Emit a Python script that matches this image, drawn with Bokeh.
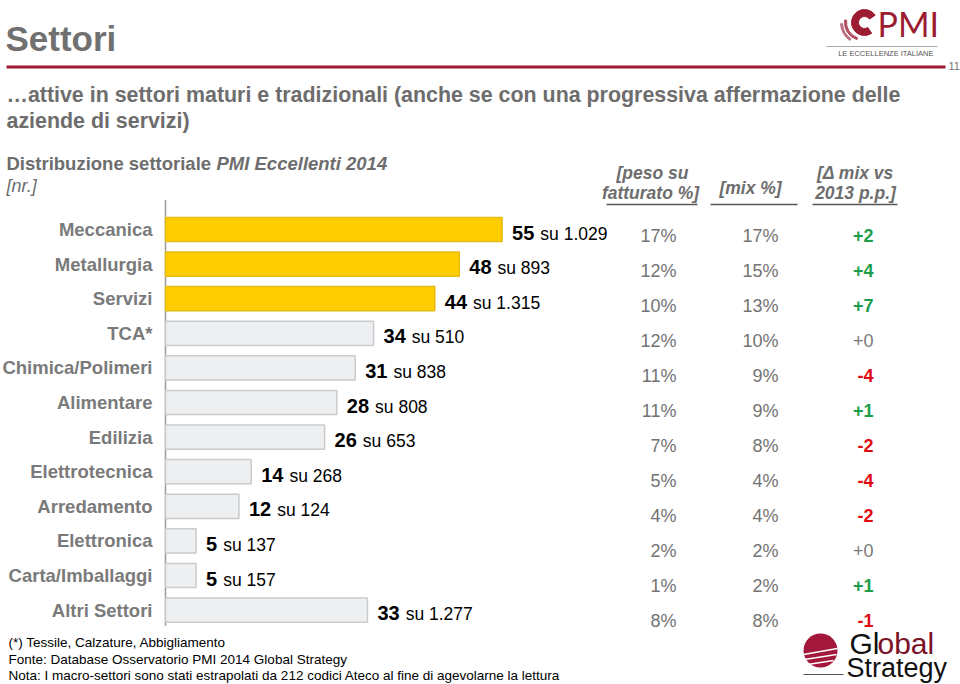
from bokeh.plotting import figure
from bokeh.models import Range1d, ColumnDataSource
from bokeh.embed import file_html
from bokeh.resources import INLINE
from bokeh.core.properties import value

# ---------------- data ----------------
categories = ["Meccanica", "Metallurgia", "Servizi", "TCA*", "Chimica/Polimeri",
              "Alimentare", "Edilizia", "Elettrotecnica", "Arredamento",
              "Elettronica", "Carta/Imballaggi", "Altri Settori"]
eccellenti = [55, 48, 44, 34, 31, 28, 26, 14, 12, 5, 5, 33]
totale = [1029, 893, 1315, 510, 838, 808, 653, 268, 124, 137, 157, 1277]
peso_fatturato = [17, 12, 10, 12, 11, 11, 7, 5, 4, 2, 1, 8]
mix = [17, 15, 13, 10, 9, 9, 8, 4, 4, 2, 2, 8]
delta_mix = [2, 4, 7, 0, -4, 1, -2, -4, -2, 0, 1, -1]
highlighted = ["Meccanica", "Metallurgia", "Servizi"]

FONT = value("Liberation Sans")

def it_num(n):
    return f"{n:,}".replace(",", ".")

idx = list(range(len(categories)))
src = ColumnDataSource(dict(
    idx=idx,
    cat=categories,
    n=eccellenti,
    n_str=[str(v) for v in eccellenti],
    su_str=["su " + it_num(t) for t in totale],
    su_off=[10 + len(str(v)) * 11.1 + 6 for v in eccellenti],
    fill=["#FFCC00" if c in highlighted else "#EDEFF1" for c in categories],
    line=["#E6BC10" if c in highlighted else "#C9CBCD" for c in categories],
    peso=[f"{v}%" for v in peso_fatturato],
    mix=[f"{v}%" for v in mix],
    delta=[f"+{d}" if d >= 0 else f"{d}" for d in delta_mix],
    dcol=["#1E9E4A" if d > 0 else ("#E10A14" if d < 0 else "#7a7a7a") for d in delta_mix],
    dstyle=["bold" if d != 0 else "normal" for d in delta_mix],
))

W, H = 960, 684
p = figure(width=W, height=H, x_range=Range1d(0, W), y_range=Range1d(H, 0),
           output_backend="svg", toolbar_location=None, min_border=0,
           x_axis_location=None, y_axis_location=None, outline_line_color=None)
p.grid.visible = False
p.background_fill_color = "white"
p.border_fill_color = "white"

X0, PXU = 165, 6.12
p.extra_x_ranges = {"val": Range1d((0 - X0) / PXU, (W - X0) / PXU)}
p.extra_y_ranges = {"row": Range1d((H - 229) / 34.6, (0 - 229) / 34.6),
                    "trow": Range1d((H - 235) / 35.0, (0 - 235) / 35.0)}

# ---------------- header ----------------
p.text(x=[5], y=[38], text=["Settori"], text_font=FONT, text_font_size="35px",
       text_font_style="bold", text_color="#707070", text_baseline="middle")
p.segment(x0=[6], y0=[66.5], x1=[945], y1=[66.5], line_color="#9C1C31", line_width=3)
p.text(x=[948], y=[65], text=["11"], text_font=FONT, text_font_size="11px",
       text_color="#777777", text_baseline="middle")

p.text(x=[6, 6], y=[94, 120],
       text=["\u2026attive in settori maturi e tradizionali (anche se con una progressiva affermazione delle",
             "aziende di servizi)"],
       text_font=FONT, text_font_size="21.4px", text_font_style="bold",
       text_color="#6d6d6d", text_baseline="middle")

p.text(x=[6], y=[163], text=["Distribuzione settoriale "], text_font=FONT,
       text_font_size="18.5px", text_font_style="bold", text_color="#6d6d6d",
       text_baseline="middle")
p.text(x=[216], y=[163], text=["PMI Eccellenti 2014"], text_font=FONT,
       text_font_size="18.5px", text_font_style="bold italic", text_color="#6d6d6d",
       text_baseline="middle")
p.text(x=[6], y=[185], text=["[nr.]"], text_font=FONT, text_font_size="18px",
       text_font_style="italic", text_color="#6d6d6d", text_baseline="middle")

# column headers
hdr = dict(text_font=FONT, text_font_size="17.5px", text_font_style="bold italic",
           text_color="#6d6d6d", text_baseline="middle", text_align="center")
p.text(x=[652, 650], y=[172, 192], text=["[peso su", "fatturato %]"], **hdr)
p.text(x=[750], y=[187], text=["[mix %]"], **hdr)
p.text(x=[855, 855], y=[172, 192], text=["[\u0394 mix vs", "2013 p.p.]"], **hdr)
p.segment(x0=[606, 710, 812], y0=[204, 204, 204], x1=[697, 797, 897], y1=[204, 204, 204],
          line_color="#555555", line_width=1.5)

# ---------------- bars ----------------
p.segment(x0=[0], y0=[-0.85], x1=[0], y1=[11.45], line_color="#9a9a9a", line_width=1.5,
          x_range_name="val", y_range_name="row")
p.hbar(y="idx", left=0, right="n", height=0.7, fill_color="fill", line_color="line",
       line_width=1.5, source=src, x_range_name="val", y_range_name="row")

p.text(x=152, y="idx", text="cat", source=src, text_align="right", text_baseline="middle",
       text_font=FONT, text_font_size="18.5px", text_font_style="bold", text_color="#7a7a7a",
       y_range_name="row")

p.text(x="n", y="idx", text="n_str", source=src, x_offset=10, y_offset=3,
       text_baseline="middle", text_font=FONT, text_font_size="20px",
       text_font_style="bold", text_color="black",
       x_range_name="val", y_range_name="row")
p.text(x="n", y="idx", text="su_str", source=src, x_offset="su_off", y_offset=4,
       text_baseline="middle", text_font=FONT, text_font_size="17.5px",
       text_color="black", x_range_name="val", y_range_name="row")

# ---------------- table ----------------
tbl = dict(source=src, text_align="right", text_baseline="middle", text_font=FONT,
           text_font_size="18px", y_range_name="trow")
p.text(x=676, y="idx", text="peso", text_color="#737373", **tbl)
p.text(x=778, y="idx", text="mix", text_color="#737373", **tbl)
p.text(x=873, y="idx", text="delta", text_color="dcol", text_font_style="dstyle", **tbl)

# ---------------- footer ----------------
p.text(x=[8, 8, 8], y=[642, 659, 675],
       text=["(*) Tessile, Calzature, Abbigliamento",
             "Fonte: Database Osservatorio PMI 2014 Global Strategy",
             "Nota: I macro-settori sono stati estrapolati da 212 codici Ateco al fine di agevolarne la lettura"],
       text_font=FONT, text_font_size="13.5px", text_color="black", text_baseline="middle")

# ---------------- logos ----------------
# PMI logo
p.annular_wedge(x=[864], y=[22], inner_radius=6, outer_radius=13, start_angle=0.6,
                end_angle=5.3, color="#9C1C31")
p.annular_wedge(x=[862], y=[22], inner_radius=16, outer_radius=18, start_angle=3.0,
                end_angle=4.4, color="#B04A5C")
p.annular_wedge(x=[862], y=[22], inner_radius=20, outer_radius=22, start_angle=3.2,
                end_angle=4.1, color="#C07080")
p.text(x=[877], y=[23], text=["PMI"], text_font=value("Lato"), text_font_size="34px",
       text_color="#9C1C31", text_baseline="middle")
p.segment(x0=[826], y0=[46], x1=[937], y1=[46], line_color="#aaaaaa", line_width=1)
p.text(x=[933], y=[53], text=["LE ECCELLENZE ITALIANE"], text_font=FONT,
       text_font_size="7.5px", text_color="#555555", text_baseline="middle",
       text_align="right")

# Global Strategy logo
p.circle(x=[820], y=[650], radius=17, fill_color="#A3173A", line_color=None)
p.segment(x0=[803, 804, 807], y0=[654, 659, 664], x1=[837, 836, 833], y1=[648, 654, 660],
          line_color="white", line_width=1.5)
p.segment(x0=[803], y0=[674], x1=[843], y1=[674], line_color="#555555", line_width=1)
p.text(x=[849], y=[643], text=["Gl"], text_font=FONT, text_font_size="30px",
       text_color="#111111", text_baseline="middle")
p.text(x=[877], y=[643], text=["obal"], text_font=FONT, text_font_size="30px",
       text_color="#7A1228", text_baseline="middle")
p.text(x=[846], y=[667], text=["Strategy"], text_font=FONT, text_font_size="27px",
       text_color="#111111", text_baseline="middle")

open("out.html", "w").write(file_html(p, INLINE))
